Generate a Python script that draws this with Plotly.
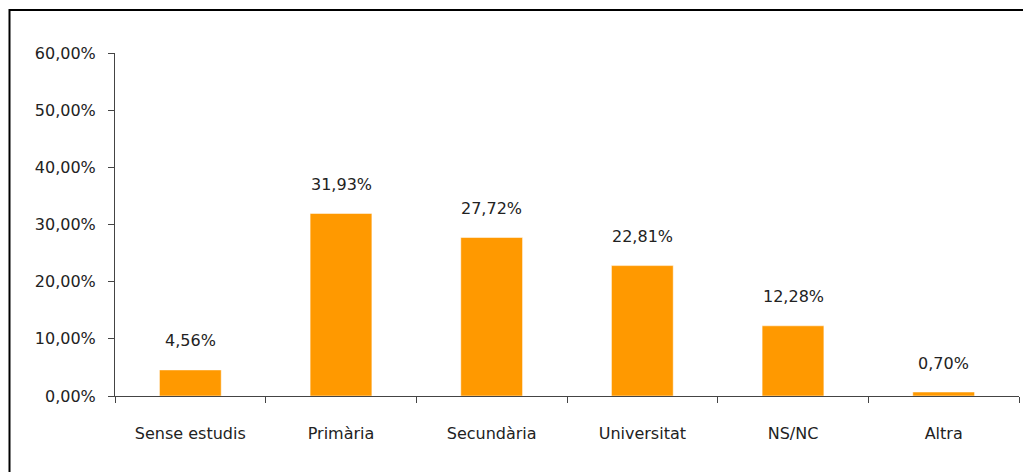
import plotly.graph_objects as go

categories = ['Sense estudis', 'Primària', 'Secundària', 'Universitat', 'NS/NC', 'Altra']
values = [4.56, 31.93, 27.72, 22.81, 12.28, 0.70]
tick_vals = [0, 10, 20, 30, 40, 50, 60]
tick_text = ['0,00%', '10,00%', '20,00%', '30,00%', '40,00%', '50,00%', '60,00%']

labels = ['{:.2f}%'.format(v).replace('.', ',') for v in values]

fig = go.Figure(data=[
    go.Bar(x=categories, y=values, marker_color='#FF9900', width=0.41,
           hoverinfo='skip')])

for c, v, t in zip(categories, values, labels):
    fig.add_annotation(x=c, y=v, text=t, showarrow=False, yshift=29,
                       font={'size': 16, 'color': '#222222'})

# outer frame of the chart
fig.add_shape(type='rect', xref='paper', yref='paper',
              x0=-0.1167, x1=1.02, y0=-0.26, y1=1.1254,
              line={'color': 'black', 'width': 2}, layer='above')

fig.update_layout(
    width=1023,
    height=472,
    template='plotly_white',
    showlegend=False,
    margin={'l': 115, 'r': 4, 't': 53, 'b': 76},
    font={'family': 'DejaVu Sans', 'color': '#222222', 'size': 16},
    xaxis={'showgrid': False,
           'showline': True,
           'linecolor': '#444444',
           'linewidth': 1,
           'ticks': 'outside',
           'tickson': 'boundaries',
           'ticklen': 6,
           'tickcolor': '#444444',
           'tickfont_size': 16,
           'ticklabelstandoff': 23,
           'zeroline': False},
    yaxis={'range': [0, 60],
           'tickvals': tick_vals,
           'ticktext': tick_text,
           'showgrid': False,
           'showline': True,
           'linecolor': '#444444',
           'linewidth': 1,
           'ticks': 'outside',
           'ticklen': 6,
           'tickcolor': '#444444',
           'tickfont_size': 16,
           'ticklabelstandoff': 9,
           'zeroline': False})

fig.write_html('out.html', config={'displayModeBar': False},
               post_script="document.body.style.margin='0';")
